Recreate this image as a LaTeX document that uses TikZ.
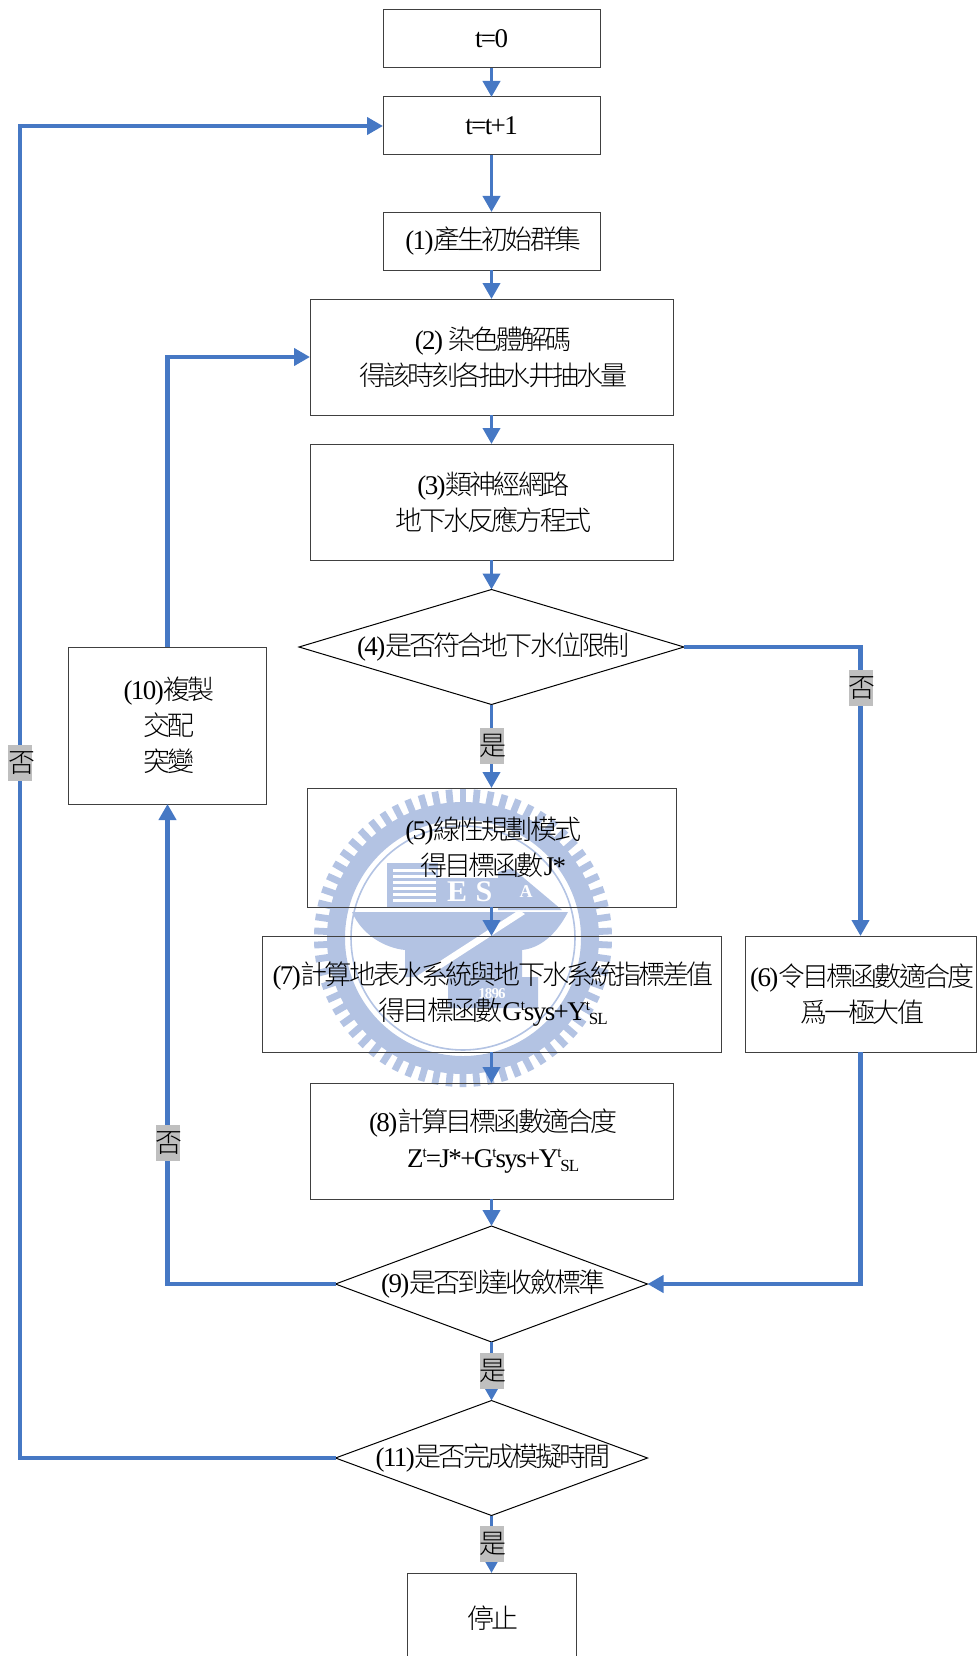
\documentclass[tikz,border=0pt]{standalone}
\usepackage{fontspec}
\setmainfont{Liberation Serif}[LetterSpace=-6]
\newfontfamily\zhf{Noto Sans CJK TC}[UprightFont={* Light},LetterSpace=-10.6]
\newcommand{\zh}[1]{{\zhf #1}}
\newcommand{\tl}[1]{\mbox{\kern3.5pt #1}}
\newcommand{\supt}{\kern-1pt\raisebox{10pt}{\fontsize{15}{15}\selectfont t}\kern-1pt}
\newcommand{\subsl}{\kern0pt\raisebox{-4pt}{\fontsize{17}{17}\selectfont SL}}
\usetikzlibrary{shapes.geometric,arrows.meta}
\definecolor{flow}{HTML}{4678C4}
\definecolor{wm}{HTML}{B3C3E3}
\definecolor{labgray}{HTML}{BFBFBF}
\definecolor{edge}{HTML}{404040}
\tikzset{
  boxn/.style={draw=edge,line width=1pt,inner sep=0pt,outer sep=0pt,align=center,font=\fontsize{27}{36}\selectfont},
  dia/.style={diamond,draw=black,line width=1pt,inner sep=0pt,outer sep=0pt,font=\fontsize{27}{36}\selectfont},
  link/.style={draw=flow,line width=4.4pt,-{Triangle[length=16pt,width=17pt]}},
  thinlink/.style={draw=flow,line width=3.8pt,-{Triangle[length=16pt,width=17pt]}},
  lab/.style={fill=labgray,inner sep=0pt,minimum width=24pt,minimum height=36pt,font=\fontsize{27}{36}\selectfont},
}
\begin{document}
\begin{tikzpicture}[x=1pt,y=-1pt]
\useasboundingbox (0,0) rectangle (978,1656);
% watermark seal
\def\wx{463}\def\wy{938}
\foreach \a in {0,5.4545,...,359}{
  \fill[wm,rotate around={\a:(\wx,\wy)}] (\wx-3.4,\wy-149) rectangle (\wx+3.4,\wy-128);
}
\fill[wm,even odd rule] (\wx,\wy) circle[radius=136] (\wx,\wy) circle[radius=118];
\draw[wm,line width=1.6pt] (\wx,\wy) circle[radius=112];
% book
\fill[wm] (387,863) rectangle (438,907);
\foreach \yy in {869,875,881,887,893,899}{\fill[white] (393,\yy) rectangle (436,\yy+3);}
% block with letters
\fill[wm] (438,878) rectangle (498,907);
\node[white,font=\bfseries\fontsize{30}{30}\selectfont] (wmE) at (457,892) {E};
\node[white,font=\bfseries\fontsize{30}{30}\selectfont] (wmS) at (484,892) {S};
% wedge
\fill[wm] (498,872) -- (512,868) -- (562,910) -- (498,910) -- cycle;
\node[white,font=\bfseries\fontsize{18}{18}\selectfont] (wmA) at (526,892) {A};
% anvil
\fill[wm] (352,912) -- (568,912) .. controls (556,935) and (540,948) .. (522,950)
  -- (522,977) -- (538,977) -- (538,1008) -- (448,1008) -- (448,977) -- (405,977) -- (405,950)
  .. controls (385,948) and (362,935) .. (352,912) -- cycle;
\fill[white] (519,910) -- (525,914) -- (423,980) -- (417,976) -- cycle;
\node[white,font=\bfseries\fontsize{15}{15}\selectfont] (wmY) at (492,994) {1896};
% process boxes
\node[boxn,minimum width=217pt,minimum height=58pt] (t0) at (491.5,39) {t=0};
\node[boxn,minimum width=217pt,minimum height=58pt] (t1) at (491.5,126) {t=t+1};
\node[boxn,minimum width=217pt,minimum height=58pt] (n1) at (491.5,241) {\tl{(1)\zh{產生初始群集}}};
\node[boxn,minimum width=363pt,minimum height=116pt] (n2) at (491.5,357) {\tl{(2) \zh{染色體解碼}}\\\tl{\zh{得該時刻各抽水井抽水量}}};
\node[boxn,minimum width=363pt,minimum height=116pt] (n3) at (491.5,502) {\tl{(3)\zh{類神經網路}}\\\tl{\zh{地下水反應方程式}}};
\node[dia,minimum width=385pt,minimum height=115pt] (d4) at (491.5,647) {\makebox[0pt]{\tl{(4)\zh{是否符合地下水位限制}}}};
\node[boxn,minimum width=369pt,minimum height=119pt] (n5) at (491.5,847.5) {\tl{(5)\zh{線性規劃模式}}\\\tl{\zh{得目標函數}J*}};
\node[boxn,minimum width=459pt,minimum height=116pt] (n7) at (491.5,994) {\tl{(7)\zh{計算地表水系統與地下水系統指標差值}}\\\tl{\zh{得目標函數}G\supt sys+Y\supt\subsl}};
\node[boxn,minimum width=231pt,minimum height=116pt] (n6) at (860.5,994) {\tl{(6)\zh{令目標函數適合度}}\\\tl{\zh{爲一極大值}}};
\node[boxn,minimum width=363pt,minimum height=116pt] (n8) at (491.5,1141) {\tl{(8)\zh{計算目標函數適合度}}\\\tl{Z\supt=J*+G\supt sys+Y\supt\subsl}};
\node[dia,minimum width=312pt,minimum height=116pt] (d9) at (491.5,1284) {\makebox[0pt]{\tl{(9)\zh{是否到達收斂標準}}}};
\node[dia,minimum width=312pt,minimum height=115pt] (d11) at (491.5,1458) {\makebox[0pt]{\tl{(11)\zh{是否完成模擬時間}}}};
\node[boxn,minimum width=169pt,minimum height=90pt] (stop) at (491.5,1618) {\tl{\zh{停止}}};
\node[boxn,minimum width=198pt,minimum height=157pt] (n10) at (167.5,725.5) {\tl{(10)\zh{複製}}\\\tl{\zh{交配}}\\\tl{\zh{突變}}};
% free corners
\coordinate (loopA) at (20,1458);
\coordinate (loopB) at (20,126);
\coordinate (tenA) at (167.5,357);
\coordinate (nineA) at (167.5,1284);
\coordinate (fourA) at (860.5,647);
\coordinate (sixA) at (860.5,1284);
% connectors
\draw[thinlink] (t0) -- (t1);
\draw[thinlink] (t1) -- (n1);
\draw[thinlink] (n1) -- (n2);
\draw[thinlink] (n2) -- (n3);
\draw[thinlink] (n3) -- (d4);
\draw[thinlink] (d4) -- node[lab]{\makebox[0pt]{\tl{\zh{是}}}} (n5);
\draw[thinlink] (n5) -- (n7);
\draw[thinlink] (n7) -- (n8);
\draw[thinlink] (n8) -- (d9);
\draw[thinlink] (d9) -- node[lab]{\makebox[0pt]{\tl{\zh{是}}}} (d11);
\draw[thinlink] (d11) -- node[lab,pos=.5]{\makebox[0pt]{\tl{\zh{是}}}} (stop.north);
\draw[link] (n10.north) -- (tenA) -- (n2.west);
\draw[link] (d9.west) -- (nineA) -- node[lab,pos=.294]{\makebox[0pt]{\tl{\zh{否}}}} (n10.south);
\draw[link] (d4.east) -- (fourA) -- node[lab,pos=.142]{\makebox[0pt]{\tl{\zh{否}}}} (n6.north);
\draw[link] (n6.south) -- (sixA) -- (d9.east);
\draw[link] (d11.west) -- (loopA) -- node[lab,pos=.522]{\makebox[0pt]{\tl{\zh{否}}}} (loopB) -- (t1.west);
\end{tikzpicture}
\end{document}
